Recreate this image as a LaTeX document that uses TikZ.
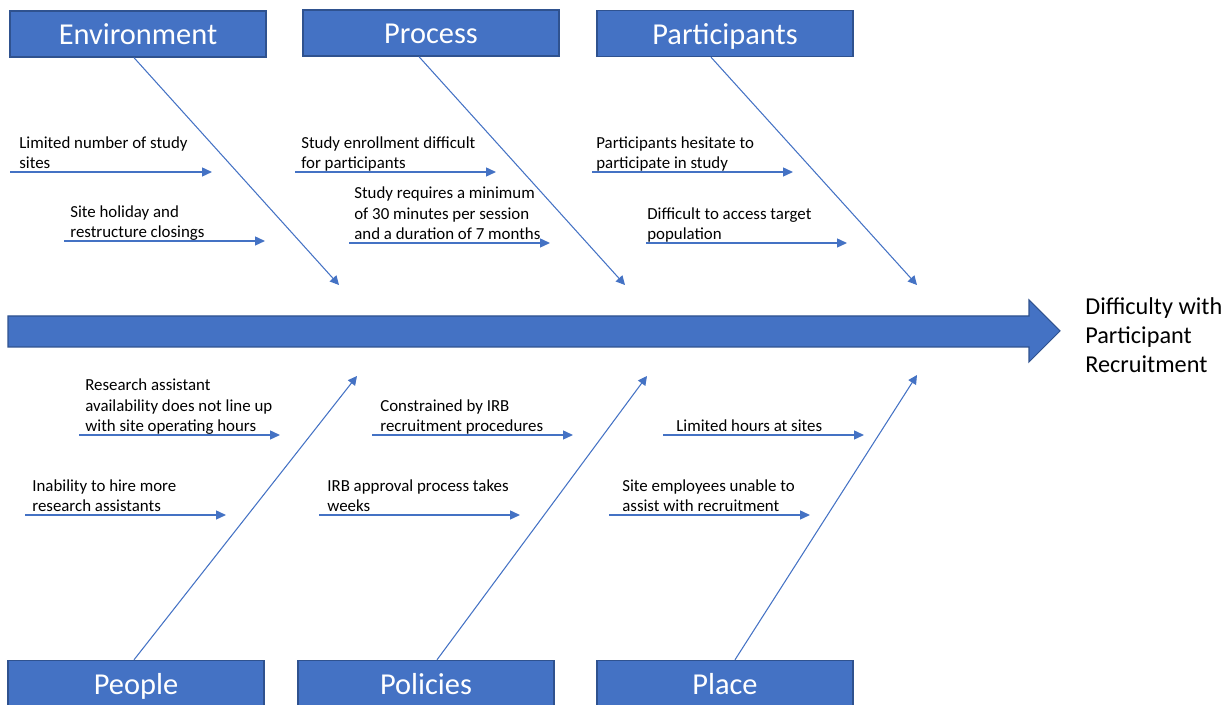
\documentclass[tikz,border=0pt]{standalone}
\usepackage{fontspec}
\setmainfont{Carlito}
\usetikzlibrary{arrows.meta}

\definecolor{bonecol}{HTML}{4472C4}
\definecolor{edgecol}{HTML}{2F528F}

\begin{document}
\begin{tikzpicture}[
  x=0.02cm, y=-0.02cm,
  cat/.style={draw=edgecol, line width=0.8pt, fill=bonecol, text=white,
              minimum width=5.12cm, minimum height=0.92cm, inner sep=0pt,
              text height=13.8pt, text depth=1.4pt,
              font=\fontsize{17.3}{20}\selectfont},
  bone/.style={-{Triangle[length=1.8mm, width=1.8mm]}, bonecol, line width=0.6pt},
  sub/.style={-{Triangle[length=2mm, width=1.8mm]}, bonecol, line width=0.8pt},
  cause/.style={anchor=south west, align=left, inner sep=0pt,
                font=\fontsize{9.6}{11.6}\selectfont},
]
\useasboundingbox (0,0) rectangle (1232,705);

% spine and effect
\draw[edgecol, line width=0.6pt, fill=bonecol]
  (8,316) -- (1029,316) -- (1029,300) -- (1060,331) -- (1029,362)
  -- (1029,347) -- (8,347) -- cycle;
\node[anchor=west, align=left, inner sep=0pt,
      font=\fontsize{13.8}{16.5}\selectfont] (effect) at (1085,335)
  {Difficulty with\\Participant\\Recruitment};

% category boxes
\node[cat] (env)  at (138,34)    {Environment};
\node[cat] (proc) at (431,33)    {Process};
\node[cat] (part) at (725,33.5)  {Participants};
\node[cat] (peop) at (136,683.5) {People};
\node[cat] (poli) at (426,683.5) {Policies};
\node[cat] (plac) at (725,683.5) {Place};

% bone tips near the spine
\coordinate (envtip)  at (339,285);
\coordinate (proctip) at (625,285);
\coordinate (parttip) at (917,285);
\coordinate (peoptip) at (357,376);
\coordinate (politip) at (647,376);
\coordinate (plactip) at (917,375);

\draw[bone] ([xshift=-0.08cm]env.south)  -- (envtip);
\draw[bone] ([xshift=-0.24cm]proc.south) -- (proctip);
\draw[bone] ([xshift=-0.28cm]part.south) -- (parttip);
\draw[bone] ([xshift=-0.04cm]peop.north) -- (peoptip);
\draw[bone] ([xshift=0.22cm]poli.north)  -- (politip);
\draw[bone] ([xshift=0.2cm]plac.north)   -- (plactip);

% causes: environment
\coordinate (e1s) at (10,172);  \coordinate (e1e) at (212,172);
\coordinate (e2s) at (64,241);  \coordinate (e2e) at (265,241);
\node[cause] (e1) at (19,175) {Limited number of study\\sites\strut};
\node[cause] (e2) at (70,244) {Site holiday and\\restructure closings\strut};
\draw[sub] (e1s) -- (e1e);
\draw[sub] (e2s) -- (e2e);

% causes: process
\coordinate (pr1s) at (295,172); \coordinate (pr1e) at (496,172);
\coordinate (pr2s) at (349,243); \coordinate (pr2e) at (550,243);
\node[cause] (pr1) at (301,175) {Study enrollment difficult\\for participants\strut};
\node[cause] (pr2) at (354,246) {Study requires a minimum\\of 30 minutes per session\\and a duration of 7 months\strut};
\draw[sub] (pr1s) -- (pr1e);
\draw[sub] (pr2s) -- (pr2e);

% causes: participants
\coordinate (pa1s) at (592,172); \coordinate (pa1e) at (793,172);
\coordinate (pa2s) at (646,243); \coordinate (pa2e) at (847,243);
\node[cause] (pa1) at (596,175) {Participants hesitate to\\participate in study\strut};
\node[cause] (pa2) at (647,246) {Difficult to access target\\population\strut};
\draw[sub] (pa1s) -- (pa1e);
\draw[sub] (pa2s) -- (pa2e);

% causes: people
\coordinate (pe1s) at (79,435); \coordinate (pe1e) at (280,435);
\coordinate (pe2s) at (25,515); \coordinate (pe2e) at (226,515);
\node[cause] (pe1) at (85,438) {Research assistant\\availability does not line up\\with site operating hours\strut};
\node[cause] (pe2) at (32,518) {Inability to hire more\\research assistants\strut};
\draw[sub] (pe1s) -- (pe1e);
\draw[sub] (pe2s) -- (pe2e);

% causes: policies
\coordinate (po1s) at (372,435); \coordinate (po1e) at (573,435);
\coordinate (po2s) at (319,515); \coordinate (po2e) at (520,515);
\node[cause] (po1) at (380,438) {Constrained by IRB\\recruitment procedures\strut};
\node[cause] (po2) at (327,518) {IRB approval process takes\\weeks\strut};
\draw[sub] (po1s) -- (po1e);
\draw[sub] (po2s) -- (po2e);

% causes: place
\coordinate (pl1s) at (663,435); \coordinate (pl1e) at (864,435);
\coordinate (pl2s) at (609,515); \coordinate (pl2e) at (810,515);
\node[cause] (pl1) at (676,438) {Limited hours at sites\strut};
\node[cause] (pl2) at (622,518) {Site employees unable to\\assist with recruitment\strut};
\draw[sub] (pl1s) -- (pl1e);
\draw[sub] (pl2s) -- (pl2e);
\end{tikzpicture}
\end{document}
